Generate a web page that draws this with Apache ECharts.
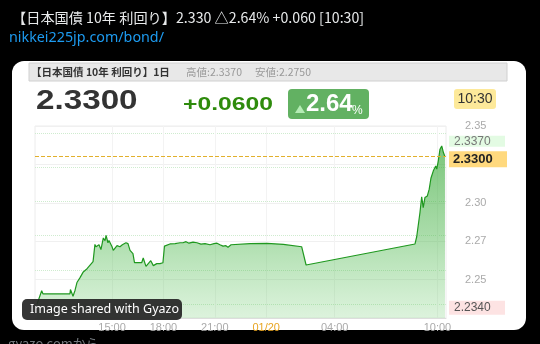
<!DOCTYPE html>
<html>
<head>
<meta charset="utf-8">
<script src="https://cdn.jsdelivr.net/npm/echarts@6/dist/echarts.min.js"></script>
<style>html,body{margin:0;padding:0;background:#000;}#c{width:540px;height:344px;}</style>
</head>
<body>
<div id="c"></div>
<script>
// Hours counted from 01/19 00:00 (24 = 01/20 00:00)
const hoursFromJan19 = [10.62,10.89,10.97,12.54,12.57,12.72,12.84,12.95,13.13,13.32,13.54,13.65,13.89,14.00,14.06,14.24,14.35,14.49,14.59,14.65,14.76,14.82,15.00,15.07,15.29,15.46,15.60,15.81,15.93,16.05,16.22,16.31,16.73,16.82,16.98,17.26,17.41,17.61,17.80,17.97,18.06,18.38,18.68,18.79,18.97,19.14,19.32,19.49,19.73,19.96,20.19,20.43,20.72,20.95,21.13,21.30,21.48,21.65,21.77,21.95,23.06,24.05,25.00,26.07,26.33,32.69,32.79,32.98,33.08,33.17,33.27,33.41,33.52,33.62,33.76,33.82,33.90,33.96,34.05,34.15,34.25,34.35,34.44];
const yieldValues = [2.2340,2.2427,2.2407,2.2407,2.2435,2.2392,2.2431,2.2481,2.2513,2.2550,2.2571,2.2584,2.2617,2.2729,2.2714,2.2727,2.2695,2.2771,2.2753,2.2788,2.2740,2.2755,2.2714,2.2690,2.2721,2.2714,2.2727,2.2740,2.2734,2.2690,2.2669,2.2610,2.2610,2.2641,2.2586,2.2623,2.2591,2.2604,2.2604,2.2610,2.2718,2.2732,2.2734,2.2744,2.2740,2.2740,2.2747,2.2737,2.2744,2.2740,2.2731,2.2734,2.2727,2.2734,2.2737,2.2727,2.2718,2.2721,2.2711,2.2727,2.2734,2.2736,2.2729,2.2714,2.2595,2.2732,2.2779,2.2937,2.3039,2.2969,2.3034,2.3045,2.3089,2.3160,2.3208,2.3197,2.3240,2.3219,2.3273,2.3349,2.3370,2.3327,2.3300];

const xTickValues = [15, 18, 21, 24, 28, 34];
const xTickLabels = ['15:00', '18:00', '21:00', '01/20', '04:00', '10:00'];
const yTickValues = [2.25, 2.275, 2.30, 2.325, 2.35];
const yTickLabels = ['2.25', '2.27', '2.30', '2.33', '2.35'];

const lastValue = 2.3300;
const highValue = 2.3370;
const lowValue = 2.2340;

const tweetTitle = '【日本国債 10年 利回り】2.330 △2.64% +0.060 [10:30]';
const tweetLink = 'nikkei225jp.com/bond/';
const headerTitle = '【日本国債 10年 利回り】1日';
const headerHigh = '高値:2.3370';
const headerLow = '安値:2.2750';
const bigPrice = '2.3300';
const changeText = '+0.0600';
const changePct = '2.64';
const timeText = '10:30';

const seriesData = hoursFromJan19.map((h, i) => [h, yieldValues[i]]);
const chart = echarts.init(document.getElementById('c'), null, {renderer: 'canvas'});

const numFont = '"Liberation Sans", Arial, sans-serif';
const jpFont = '"Noto Sans CJK JP", sans-serif';
const hiddenLine = {color: 'rgba(0,0,0,0)', width: 0};

chart.setOption({
  backgroundColor: '#000',
  animation: false,
  graphic: [
    {type: 'rect', z: -10, shape: {x: 12, y: 61, width: 514, height: 269, r: 12}, style: {fill: '#fff'}},
    {type: 'text', x: 12, y: 18, style: {text: tweetTitle, fill: '#e7e9ea', fontSize: 14.2, fontFamily: jpFont, verticalAlign: 'middle'}},
    {type: 'text', x: 9, y: 38, style: {text: tweetLink, fill: '#1d9bf0', fontSize: 14.3, fontFamily: '"Noto Sans", sans-serif', verticalAlign: 'middle'}},
    {type: 'text', x: 8, y: 337, style: {text: 'gyazo.comから', fill: '#71767b', fontSize: 13, fontFamily: jpFont, verticalAlign: 'top'}},
    {type: 'rect', z: -5, shape: {x: 29, y: 63, width: 478, height: 18}, style: {fill: '#e8e8e8', stroke: '#d0d0d0', lineWidth: 1}},
    {type: 'text', x: 31, y: 72.5, style: {text: headerTitle, fill: '#333', fontSize: 10.5, fontWeight: 'bold', fontFamily: jpFont, verticalAlign: 'middle'}},
    {type: 'text', x: 186, y: 72.5, style: {text: headerHigh, fill: '#999', fontSize: 10.5, fontFamily: jpFont, verticalAlign: 'middle'}},
    {type: 'text', x: 255, y: 72.5, style: {text: headerLow, fill: '#999', fontSize: 10.5, fontFamily: jpFont, verticalAlign: 'middle'}},
    {type: 'text', x: 36, y: 102, scaleX: 1.23, style: {text: bigPrice, fill: '#333', fontSize: 27, fontWeight: 'bold', fontFamily: numFont, verticalAlign: 'middle'}},
    {type: 'text', x: 183, y: 105, scaleX: 1.3, style: {text: changeText, fill: '#2e8b0c', fontSize: 19, fontWeight: 'bold', fontFamily: numFont, verticalAlign: 'middle'}},
    {type: 'rect', shape: {x: 288, y: 89, width: 81, height: 30, r: 4}, style: {fill: '#62b162'}},
    {type: 'polygon', shape: {points: [[295, 113], [300, 105], [305, 113]]}, style: {fill: '#b5ecb5'}},
    {type: 'text', x: 306, y: 104, style: {text: changePct, fill: '#fff', fontSize: 24, fontWeight: 'bold', fontFamily: numFont, verticalAlign: 'middle'}},
    {type: 'text', x: 352, y: 110.5, style: {text: '%', fill: '#fff', fontSize: 12, fontFamily: numFont, verticalAlign: 'middle'}},
    {type: 'rect', shape: {x: 454, y: 89, width: 42, height: 20, r: 3}, style: {fill: '#fde99a'}},
    {type: 'text', x: 475, y: 99.5, style: {text: timeText, fill: '#333', fontSize: 14, fontFamily: numFont, align: 'center', verticalAlign: 'middle'}},
    {type: 'rect', z: 100, shape: {x: 22, y: 299, width: 160, height: 21, r: 5}, style: {fill: 'rgba(38,38,38,0.93)'}},
    {type: 'text', z: 101, x: 30, y: 309.5, style: {text: 'Image shared with Gyazo', fill: '#fff', fontSize: 12.5, fontFamily: '"Noto Sans", sans-serif', verticalAlign: 'middle'}}
  ],
  grid: [
    {left: 35, right: 94, top: 126, bottom: 26, show: true, borderColor: '#ececec', borderWidth: 1, backgroundColor: 'transparent'},
    {left: 35, right: 94, top: 133, bottom: 40}
  ],
  xAxis: [
    {
      type: 'value', gridIndex: 0, min: 10.5, max: 34.5,
      axisLine: {show: true, lineStyle: {color: '#ddd'}},
      axisTick: {show: false, customValues: xTickValues},
      splitLine: {show: true, lineStyle: {color: '#f3f3f3'}},
      axisLabel: {
        customValues: xTickValues,
        margin: 4, fontSize: 11, fontFamily: numFont, color: '#aaa',
        formatter: v => {
          const i = xTickValues.indexOf(v);
          if (i < 0) return '';
          return v === 24 ? '{d|' + xTickLabels[i] + '}' : xTickLabels[i];
        },
        rich: {d: {color: '#e8a521', fontSize: 11, fontFamily: numFont}}
      }
    },
    {type: 'value', gridIndex: 1, min: 0, max: 1, show: false}
  ],
  yAxis: [
    {
      type: 'value', gridIndex: 0, position: 'right', min: 2.225, max: 2.35, interval: 0.025,
      axisLine: {show: false}, axisTick: {show: false},
      splitLine: {show: true, lineStyle: {color: '#f0f0f0'}},
      axisLabel: {
        margin: 19, fontSize: 11, color: '#aaa', fontFamily: numFont,
        formatter: v => {
          for (let i = 0; i < yTickValues.length; i++) if (Math.abs(yTickValues[i] - v) < 1e-6) return yTickLabels[i];
          return '';
        }
      }
    },
    {
      type: 'value', gridIndex: 1, min: 0, max: 5, interval: 1,
      axisLine: {show: false}, axisTick: {show: false}, axisLabel: {show: false},
      splitLine: {show: true, lineStyle: {color: '#cfeccf', type: 'dotted', width: 1}}
    }
  ],
  series: [{
    type: 'line', xAxisIndex: 0, yAxisIndex: 0,
    data: seriesData, showSymbol: false, symbol: 'none',
    lineStyle: {color: '#1f981f', width: 1.2},
    areaStyle: {
      origin: 'start',
      color: new echarts.graphic.LinearGradient(0, 0, 0, 1, [
        {offset: 0, color: 'rgba(56,168,56,0.95)'},
        {offset: 0.5, color: 'rgba(72,180,72,0.68)'},
        {offset: 1, color: 'rgba(100,200,100,0.32)'}
      ])
    },
    markLine: {
      silent: true, symbol: 'none',
      data: [
        {yAxis: highValue, lineStyle: hiddenLine,
          label: {show: true, position: 'end', distance: 3, formatter: () => highValue.toFixed(4),
            backgroundColor: '#e3fbe3', color: '#777', fontSize: 12, lineHeight: 11, width: 47, padding: [0, 4, 0, 5], fontFamily: numFont}},
        {yAxis: lowValue, lineStyle: hiddenLine,
          label: {show: true, position: 'end', distance: 3, offset: [0, -2.5], formatter: () => lowValue.toFixed(4),
            backgroundColor: '#fde3e3', color: '#555', fontSize: 12, lineHeight: 14, width: 47, padding: [0, 4, 0, 5], fontFamily: numFont}},
        {yAxis: lastValue, lineStyle: {color: '#e2b02c', type: 'dashed', width: 1},
          label: {show: true, position: 'end', distance: 3, offset: [0, 2.5], formatter: () => lastValue.toFixed(4),
            backgroundColor: '#ffd97e', color: '#222', fontWeight: 'bold', fontSize: 13, lineHeight: 16, width: 50, padding: [0, 4, 0, 4], fontFamily: numFont}}
      ]
    }
  }]
});
</script>
</body>
</html>
